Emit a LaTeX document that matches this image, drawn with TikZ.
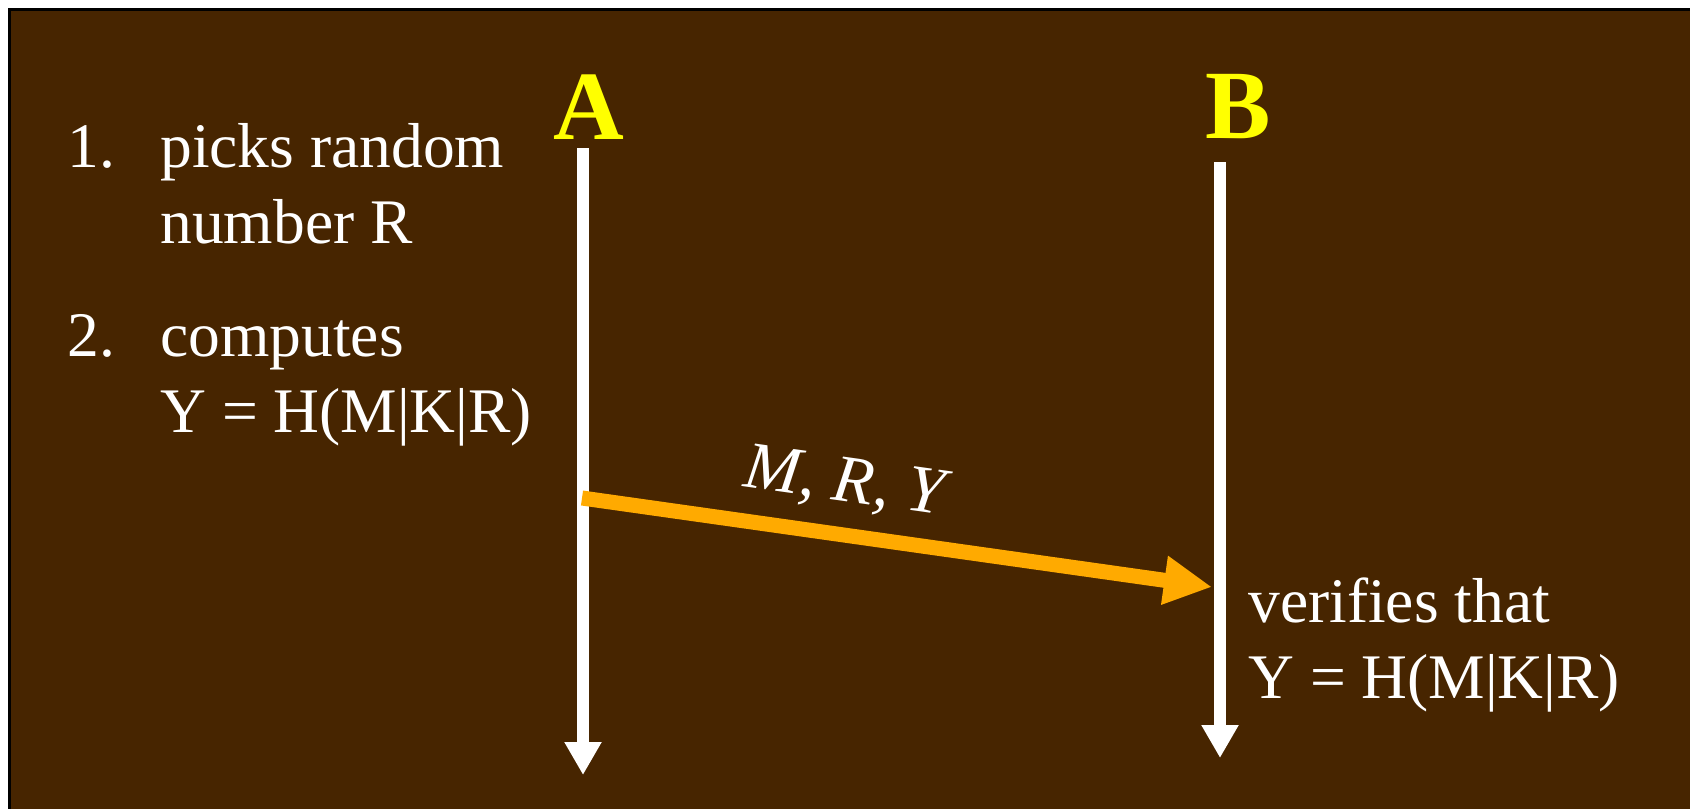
\documentclass[tikz,border=0pt]{standalone}
\usepackage{fontspec}
\setmainfont{Liberation Serif}
\usetikzlibrary{arrows.meta}

\definecolor{fondo}{RGB}{71,37,0}
\definecolor{naranja}{RGB}{255,170,0}
\definecolor{amarillo}{RGB}{255,255,0}

\tikzset{
  texto/.style={text=white, font=\fontsize{31.75}{38}\selectfont, inner sep=0pt, align=left, anchor=north west},
  participante/.style={text=amarillo, font=\bfseries\fontsize{49}{50}\selectfont, inner sep=0pt},
  linea/.style={white, line width=6pt, -{Triangle[width=17.5pt,length=16.5pt]}},
  mensaje/.style={naranja, line width=7.5pt, -{Triangle[width=23pt,length=24pt]}},
  etiqueta/.style={text=white, font=\itshape\fontsize{33.5}{38}\selectfont, inner sep=0pt, sloped, above=8pt, pos=0.405}
}

\begin{document}
\begin{tikzpicture}[x=0.5pt, y=-0.5pt]

        \useasboundingbox (0,0) rectangle (1690,808);

        % Fondo y marco
        \fill[white] (0,0) rectangle (1690,808);
        \draw[black, line width=1.5pt, fill=fondo] (9.5,9.5) rectangle (1720,840);

        % Participantes
        \node[participante] (A) at (589,107) {A};
        \node[participante] (B) at (1238,107) {B};

        % Lineas de vida
        \coordinate (A-ini) at (583,148);
        \coordinate (A-fin) at (583,775);
        \coordinate (B-ini) at (1220,162);
        \coordinate (B-fin) at (1220,758);
        \draw[linea] (A-ini) -- (A-fin);
        \draw[linea] (B-ini) -- (B-fin);

        % Pasos de A
        \node[texto] (n1) at (67,114) {\strut 1.};
        \node[texto] (p1) at (160,114) {\strut picks random\\\strut number R};
        \node[texto] (n2) at (67,303) {\strut 2.};
        \node[texto] (p2) at (160,303) {\strut computes\\\strut Y = H(M|K|R)};

        % Mensaje de A a B
        \coordinate (A-envio) at (582,498);
        \coordinate (B-recibe) at (1212,587);
        \draw[mensaje] (A-envio) -- node[etiqueta] (mry) {M, R, Y} (B-recibe);

        % Paso de B
        \node[texto] (vb) at (1248,569) {\strut verifies that\\\strut Y = H(M|K|R)};

\end{tikzpicture}
\end{document}
